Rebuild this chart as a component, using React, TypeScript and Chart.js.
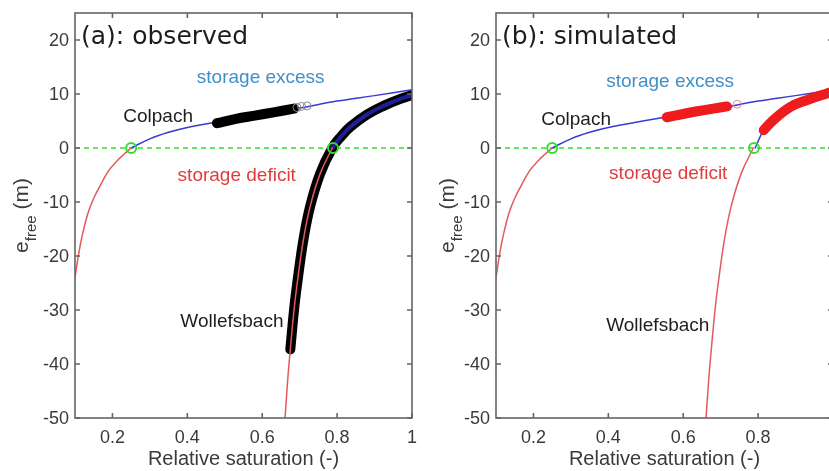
import React, { useEffect, useRef } from 'react';
import { Chart, registerables } from 'chart.js';

Chart.register(...registerables);

// ---------- axes ----------
const X_MIN = 0.1;
const X_MAX = 1.0;
const Y_MIN = -50;
const Y_MAX = 25;
const xTicks = [0.2, 0.4, 0.6, 0.8, 1];
const xTickLabels = ['0.2', '0.4', '0.6', '0.8', '1'];
const yTicks = [20, 10, 0, -10, -20, -30, -40, -50];
const yTickLabels = ['20', '10', '0', '-10', '-20', '-30', '-40', '-50'];

// ---------- model curves (e_free vs relative saturation) ----------
// Colpach: storage deficit branch (red) and storage excess branch (blue)
const colpachDeficitX = [0.1, 0.11, 0.12, 0.135, 0.15, 0.167, 0.19, 0.212, 0.23, 0.25];
const colpachDeficitY = [-24, -19.5, -16, -12, -9.3, -7, -4.2, -2.4, -1.2, 0];
const colpachExcessX = [0.25, 0.3, 0.35, 0.4, 0.5, 0.6, 0.7, 0.8, 0.9, 1.0];
const colpachExcessY = [0, 1.7, 2.9, 3.8, 5.1, 6.3, 7.4, 8.7, 9.7, 10.8];

// Wollefsbach: deficit branch (red) and excess branch (blue)
const wolDeficitX = [0.661, 0.668, 0.675, 0.686, 0.697, 0.71, 0.728, 0.755, 0.787];
const wolDeficitY = [-50, -43, -37.3, -29.3, -23.2, -17, -10.8, -4.7, 0];
const wolExcessX = [0.787, 0.81, 0.835, 0.88, 0.924, 0.969, 1.0];
const wolExcessY = [0, 2.1, 3.9, 6.2, 7.8, 9.1, 9.8];

// Wollefsbach excess branch as drawn in the simulated panel
const wolExcessSimX = [0.792, 0.815, 0.841, 0.886, 0.931, 0.984, 1.0];
const wolExcessSimY = [0, 3.3, 5.2, 7.6, 8.9, 10.1, 10.4];

// zero crossings
const crossX = [0.25, 0.789];
const crossY = [0, 0];

// ---------- observed data (panel a) ----------
const obsColpachX = [0.479, 0.53, 0.58, 0.63, 0.685];
const obsColpachY = [4.6, 5.4, 6.0, 6.6, 7.3];
const obsColpachSparseX = [0.693, 0.705, 0.72];
const obsColpachSparseY = [7.5, 7.7, 7.8];
const obsWolX = [0.675, 0.686, 0.697, 0.71, 0.728, 0.755, 0.787, 0.81, 0.835, 0.88, 0.924, 0.969, 1.0];
const obsWolY = [-37.3, -29.3, -23.2, -17, -10.8, -4.7, 0, 2.1, 3.9, 6.2, 7.8, 9.1, 9.8];

// ---------- simulated data (panel b) ----------
const simColpachX = [0.556, 0.6, 0.637, 0.68, 0.717];
const simColpachY = [5.7, 6.3, 6.8, 7.3, 7.7];
const simColpachSparseX = [0.744];
const simColpachSparseY = [8.1];
const simWolX = [0.815, 0.841, 0.886, 0.931, 0.984, 1.0];
const simWolY = [3.3, 5.2, 7.6, 8.9, 10.1, 10.4];

// ---------- labels ----------
const annotationTexts = ['storage excess', 'Colpach', 'storage deficit', 'Wollefsbach'];
const xTitle = 'Relative saturation (-)';

const zip = (xs: number[], ys: number[]) => xs.map((x, i) => ({ x, y: ys[i] }));

const RED = '#e35a5a';
const BLUE = '#3a3ad2';
const GREEN = '#2fe02f';
const SANS = '"Liberation Sans", Arial, Helvetica, sans-serif';

function lineDs(data: any[], color: string, width: number, order: number, extra: any = {}) {
  return {
    data,
    borderColor: color,
    backgroundColor: color,
    borderWidth: width,
    pointRadius: 0,
    fill: false,
    tension: 0.4,
    borderCapStyle: 'round',
    borderJoinStyle: 'round',
    order,
    ...extra,
  };
}

function pointDs(data: any[], color: string, radius: number, width: number, order: number) {
  return {
    data,
    showLine: false,
    pointRadius: radius,
    pointBorderColor: color,
    pointBackgroundColor: 'rgba(0,0,0,0)',
    pointBorderWidth: width,
    borderColor: color,
    order,
  };
}

function zeroLine() {
  return lineDs(zip([X_MIN, X_MAX], [0, 0]), GREEN, 1.6, 20, {
    borderDash: [5, 4],
    tension: 0,
    borderCapStyle: 'butt',
  });
}

function datasetsA() {
  return [
    zeroLine(),
    lineDs(zip(obsWolX, obsWolY), '#000000', 10, 15),
    lineDs(zip(colpachDeficitX, colpachDeficitY), RED, 1.5, 10),
    lineDs(zip(colpachExcessX, colpachExcessY), BLUE, 1.5, 10),
    lineDs(zip(wolDeficitX, wolDeficitY), RED, 1.5, 9),
    lineDs(zip(wolExcessX, wolExcessY), '#1e1e96', 4, 9),
    lineDs(zip(obsColpachX, obsColpachY), '#000000', 10, 5),
    pointDs(zip(obsColpachSparseX, obsColpachSparseY), '#8a8a8a', 4, 1, 4),
    pointDs(zip(crossX, crossY), GREEN, 5, 2, 1),
  ];
}

function datasetsB() {
  return [
    zeroLine(),
    lineDs(zip(colpachDeficitX, colpachDeficitY), RED, 1.5, 10),
    lineDs(zip(colpachExcessX, colpachExcessY), BLUE, 1.5, 10),
    lineDs(zip(wolDeficitX, wolDeficitY), RED, 1.5, 10),
    lineDs(zip(wolExcessSimX, wolExcessSimY), BLUE, 1.5, 10),
    lineDs(zip(simColpachX, simColpachY), '#ee1c1c', 10, 5),
    lineDs(zip(simWolX, simWolY), '#ee1c1c', 10, 5),
    pointDs(zip(simColpachSparseX, simColpachSparseY), '#e88a8a', 4, 1, 4),
    pointDs(zip(crossX, crossY), GREEN, 5, 2, 1),
  ];
}

type PanelCfg = {
  title: string;
  datasets: any[];
  annot: { x: number; y: number }[];
  yTitleGap: number;
};

const panelA: PanelCfg = {
  title: '(a): observed',
  datasets: datasetsA(),
  annot: [
    { x: 0.596, y: 13.0 },
    { x: 0.322, y: 5.7 },
    { x: 0.532, y: -5.2 },
    { x: 0.519, y: -32.2 },
  ],
  yTitleGap: 47,
};

const panelB: PanelCfg = {
  title: '(b): simulated',
  datasets: datasetsB(),
  annot: [
    { x: 0.565, y: 12.2 },
    { x: 0.314, y: 5.2 },
    { x: 0.56, y: -4.7 },
    { x: 0.532, y: -33 },
  ],
  yTitleGap: 42,
};

const annotColors = ['#3f8fc9', '#1e1e1e', '#e03c3c', '#1e1e1e'];

function makeDecor(cfg: PanelCfg) {
  return {
    id: 'decor',
    afterDatasetsDraw(chart: any) {
      const ctx = chart.ctx;
      const a = chart.chartArea;
      const xs = chart.scales.x;
      const ys = chart.scales.y;
      ctx.save();

      // annotation texts
      ctx.font = `19px ${SANS}`;
      ctx.textAlign = 'center';
      ctx.textBaseline = 'middle';
      annotationTexts.forEach((t, i) => {
        ctx.fillStyle = annotColors[i];
        ctx.fillText(t, xs.getPixelForValue(cfg.annot[i].x), ys.getPixelForValue(cfg.annot[i].y));
      });

      // panel title
      ctx.font = `25px "DejaVu Sans", Verdana, sans-serif`;
      ctx.fillStyle = '#1c1c1c';
      ctx.textAlign = 'left';
      ctx.fillText(cfg.title, a.left + 6, ys.getPixelForValue(20.5));

      // box
      ctx.strokeStyle = '#646464';
      ctx.lineWidth = 1.6;
      ctx.strokeRect(a.left, a.top, a.right - a.left, a.bottom - a.top);

      // inward ticks
      const tl = 5;
      ctx.beginPath();
      xTicks.forEach((v) => {
        const px = xs.getPixelForValue(v);
        ctx.moveTo(px, a.bottom);
        ctx.lineTo(px, a.bottom - tl);
        ctx.moveTo(px, a.top);
        ctx.lineTo(px, a.top + tl);
      });
      yTicks.forEach((v) => {
        const py = ys.getPixelForValue(v);
        ctx.moveTo(a.left, py);
        ctx.lineTo(a.left + tl, py);
        ctx.moveTo(a.right, py);
        ctx.lineTo(a.right - tl, py);
      });
      ctx.stroke();

      // tick labels
      ctx.fillStyle = '#3a3a3a';
      ctx.font = `18px ${SANS}`;
      ctx.textAlign = 'right';
      ctx.textBaseline = 'middle';
      yTicks.forEach((v, i) => {
        ctx.fillText(yTickLabels[i], a.left - 6, ys.getPixelForValue(v) + 1);
      });
      ctx.textAlign = 'center';
      xTicks.forEach((v, i) => {
        ctx.fillText(xTickLabels[i], xs.getPixelForValue(v), a.bottom + 20);
      });

      // x title
      ctx.font = `20px ${SANS}`;
      ctx.fillText(xTitle, (a.left + a.right) / 2, a.bottom + 41);

      // y title: e_free (m)
      const cy = (a.top + a.bottom) / 2;
      const bx = a.left - cfg.yTitleGap;
      ctx.translate(bx, cy);
      ctx.rotate(-Math.PI / 2);
      ctx.textAlign = 'left';
      ctx.textBaseline = 'alphabetic';
      const mainFont = `21px ${SANS}`;
      const subFont = `15px ${SANS}`;
      ctx.font = mainFont;
      const eW = ctx.measureText('e').width;
      const restW = ctx.measureText(' (m)').width;
      ctx.font = subFont;
      const subW = ctx.measureText('free').width;
      const total = eW + subW + restW;
      let x0 = -total / 2;
      ctx.font = mainFont;
      ctx.fillText('e', x0, 0);
      x0 += eW;
      ctx.font = subFont;
      ctx.fillText('free', x0, 8);
      x0 += subW;
      ctx.font = mainFont;
      ctx.fillText(' (m)', x0, 0);

      ctx.restore();
    },
  };
}

function Panel({ cfg }: { cfg: PanelCfg }) {
  const ref = useRef<HTMLCanvasElement | null>(null);
  useEffect(() => {
    if (!ref.current) return;
    const chart = new Chart(ref.current, {
      type: 'line',
      data: { datasets: cfg.datasets as any },
      options: {
        animation: false,
        responsive: false,
        layout: { padding: { top: 13, right: 8, left: 0, bottom: 0 } },
        plugins: { legend: { display: false }, tooltip: { enabled: false } },
        scales: {
          x: {
            type: 'linear',
            min: X_MIN,
            max: X_MAX,
            grid: { display: false, drawTicks: false },
            border: { display: false },
            ticks: { display: false },
            afterBuildTicks: (s: any) => {
              s.ticks = xTicks.map((v) => ({ value: v }));
            },
            afterFit: (s: any) => {
              s.height = 53;
            },
          },
          y: {
            type: 'linear',
            min: Y_MIN,
            max: Y_MAX,
            grid: { display: false, drawTicks: false },
            border: { display: false },
            ticks: { display: false },
            afterBuildTicks: (s: any) => {
              s.ticks = yTicks.map((v) => ({ value: v }));
            },
            afterFit: (s: any) => {
              s.width = 75;
            },
          },
        },
      } as any,
      plugins: [makeDecor(cfg)],
    });
    return () => chart.destroy();
  }, [cfg]);
  return <canvas ref={ref} width={420} height={471} style={{ display: 'block' }} />;
}

export default function App() {
  return (
    <div
      style={{
        position: 'absolute',
        left: 0,
        top: 0,
        width: 829,
        height: 471,
        overflow: 'hidden',
        background: '#ffffff',
      }}
    >
      <div style={{ position: 'absolute', left: 0, top: 0, width: 420, height: 471 }}>
        <Panel cfg={panelA} />
      </div>
      <div style={{ position: 'absolute', left: 421, top: 0, width: 420, height: 471 }}>
        <Panel cfg={panelB} />
      </div>
    </div>
  );
}
